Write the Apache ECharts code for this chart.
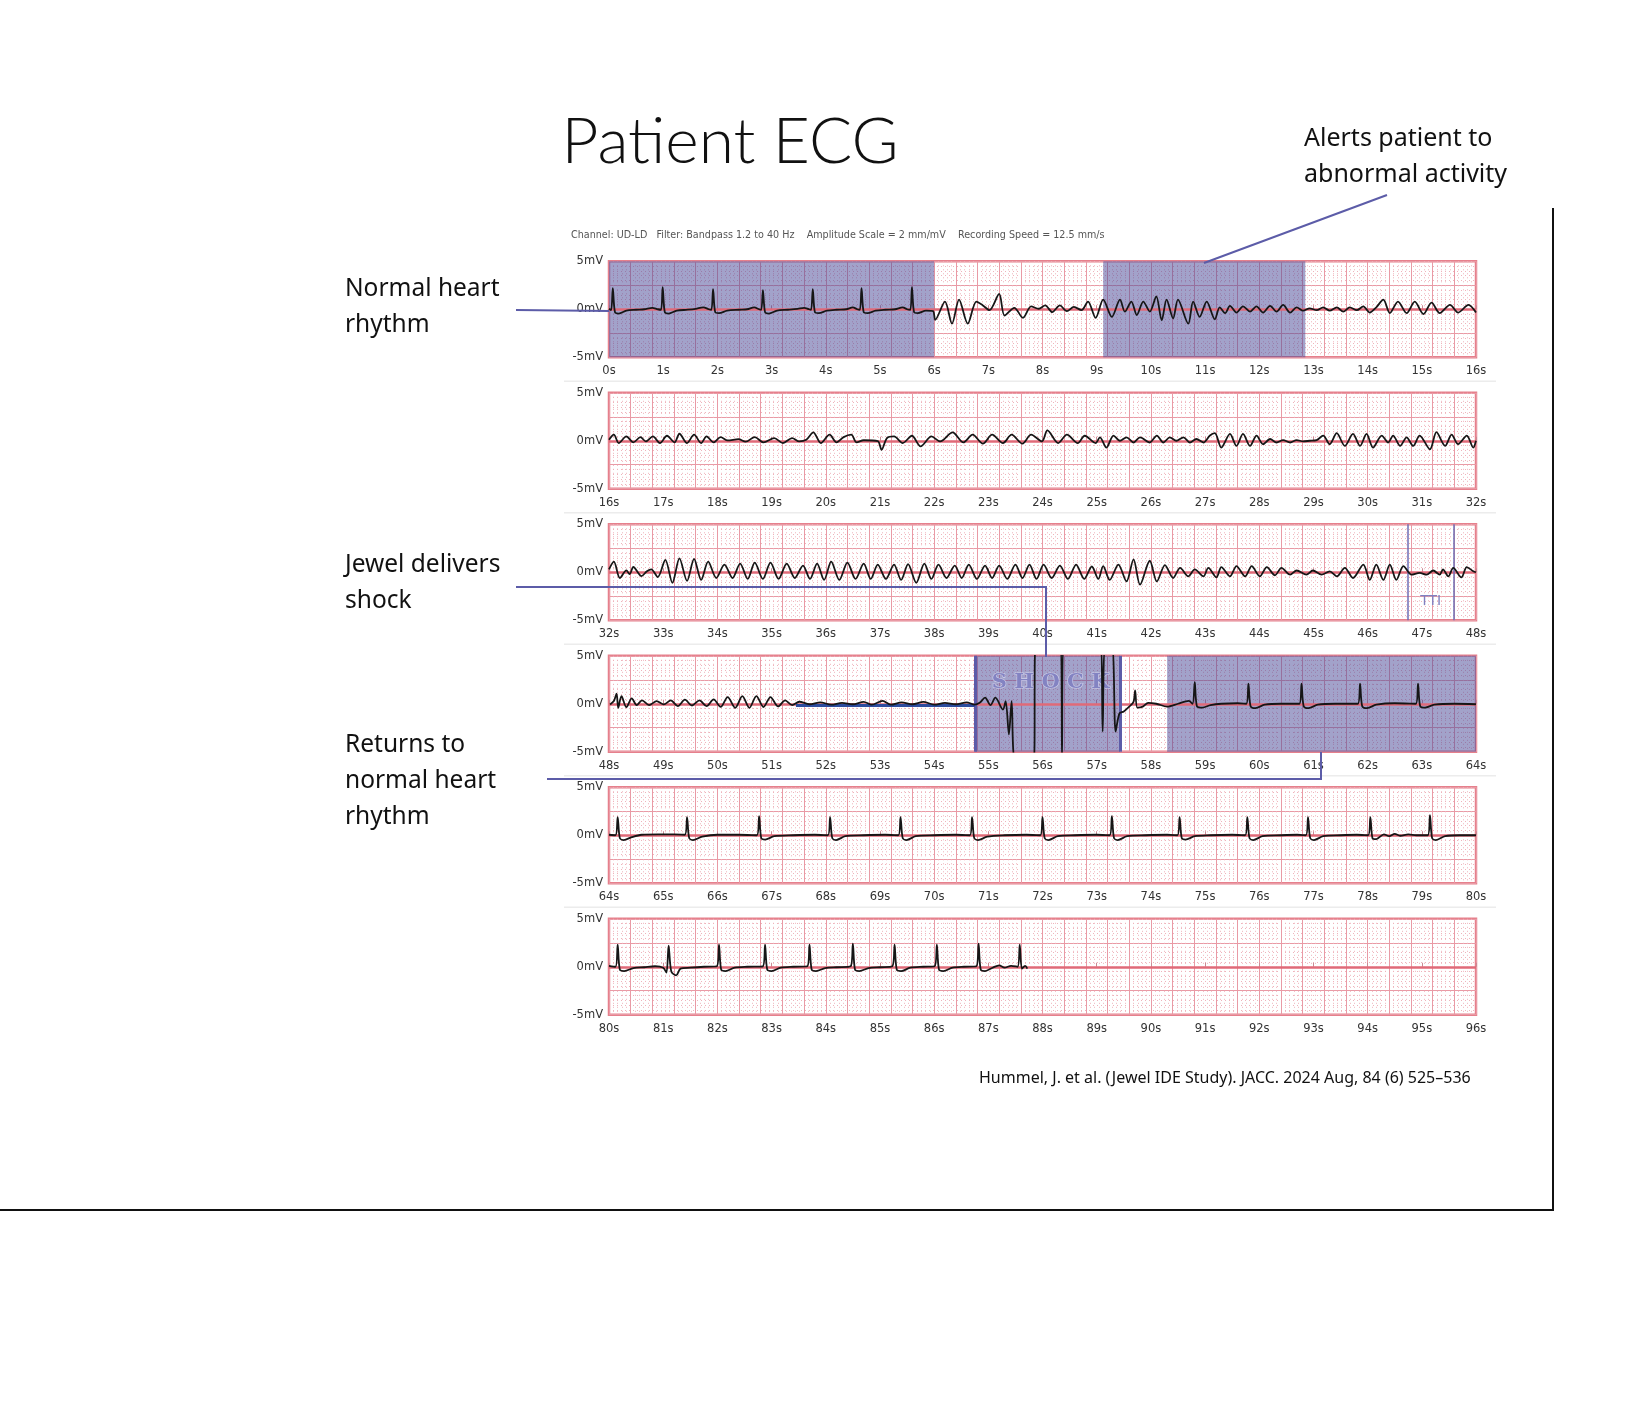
<!DOCTYPE html>
<html>
<head>
<meta charset="utf-8">
<script src="https://cdn.jsdelivr.net/npm/echarts@6/dist/echarts.min.js"></script>
<style>
html,body{margin:0;padding:0;background:#fff;}
#c{width:1652px;height:1416px;}
</style>
</head>
<body>
<div id="c"></div>
<script>
// ---------- DATA ----------
const stripStarts = [0, 16, 32, 48, 64, 80];
const voltLabels = [-5, 0, 5];

const strip1 = [
[0.00,0.05],[0.04,-0.1],[0.07,2.2],[0.11,-0.3],[0.18,-0.45],[0.32,-0.15],[0.5,-0.05],[0.65,0.0],[0.8,0.15],[0.9,0.0],[0.96,-0.05],
[0.99,2.3],[1.03,-0.3],[1.1,-0.45],[1.25,-0.15],[1.45,-0.05],[1.6,0.05],[1.74,0.2],[1.84,0.0],[1.89,-0.05],
[1.92,2.1],[1.96,-0.3],[2.03,-0.4],[2.18,-0.15],[2.4,-0.05],[2.55,0.0],[2.68,0.2],[2.77,0.0],[2.81,-0.05],
[2.84,2.0],[2.88,-0.3],[2.95,-0.45],[3.1,-0.15],[3.3,-0.05],[3.48,0.05],[3.6,0.15],[3.69,0.0],[3.73,-0.05],
[3.76,2.1],[3.8,-0.3],[3.87,-0.4],[4.02,-0.15],[4.2,-0.05],[4.38,0.0],[4.5,0.2],[4.58,0.0],[4.63,-0.05],
[4.66,2.2],[4.7,-0.3],[4.77,-0.4],[4.92,-0.15],[5.1,-0.05],[5.28,0.0],[5.42,0.2],[5.5,0.0],[5.56,-0.05],
[5.59,2.3],[5.63,-0.3],[5.7,-0.4],[5.85,-0.15],[5.98,-0.2],
[6.02,-1.1],[6.2,0.8],[6.33,-1.5],[6.46,1.0],[6.62,-1.5],[6.78,0.8],[6.9,0.4],[7.02,-0.1],[7.2,1.6],[7.3,-0.65],[7.48,0.15],[7.64,-0.9],[7.79,0.3],[7.93,0.05],[8.05,0.4],[8.18,-0.3],[8.32,0.4],[8.45,-0.2],[8.58,0.25],[8.72,-0.1],[8.84,0.8],[8.98,-0.9],
[9.12,1.0],[9.28,-0.8],[9.43,1.0],[9.52,-0.25],[9.64,0.8],[9.74,-0.6],[9.86,0.8],[9.98,-0.25],[10.1,1.35],[10.2,-1.15],[10.29,1.0],[10.41,-0.95],[10.5,1.0],[10.69,-1.5],[10.78,0.8],[10.9,-0.8],[11.03,0.8],[11.18,-1.05],[11.27,0.2],[11.37,-0.4],[11.46,0.35],[11.58,-0.35],[11.7,0.3],[11.83,-0.25],[11.95,0.3],[12.07,-0.35],[12.2,0.35],[12.32,-0.25],[12.44,0.45],[12.57,-0.35],[12.69,0.2],[12.81,-0.15],[12.93,0.1],[13.06,-0.1],[13.18,0.2],[13.3,-0.15],[13.43,0.2],[13.55,-0.25],[13.67,0.2],[13.8,-0.1],[13.92,0.3],[14.04,-0.35],[14.16,0.2],[14.29,1.0],[14.41,-0.4],[14.56,0.8],[14.72,-0.4],[14.87,0.8],[15.03,-0.5],[15.18,0.7],[15.33,-0.4],[15.52,0.45],[15.67,-0.35],[15.86,0.45],[16.0,-0.35]
];

const strip2 = [
[16.0,0.1],[16.09,0.63],[16.18,-0.24],[16.32,0.45],[16.45,-0.17],[16.58,0.38],[16.68,-0.07],[16.81,0.45],[16.94,-0.24],[17.07,0.52],[17.21,-0.17],[17.3,0.73],[17.44,-0.24],[17.57,0.63],[17.7,-0.24],[17.8,0.45],[17.93,-0.17],[18.06,0.38],[18.19,0.03],[18.39,0.17],[18.52,-0.1],[18.69,0.38],[18.85,-0.17],[19.05,0.28],[19.21,-0.24],[19.38,0.28],[19.51,-0.07],[19.64,0.1],[19.77,0.87],[19.91,-0.24],[20.07,0.63],[20.2,-0.17],[20.33,0.38],[20.47,0.63],[20.57,-0.17],[20.7,0.05],[20.96,-0.05],[21.03,-0.94],[21.13,0.28],[21.26,0.45],[21.42,-0.24],[21.59,0.52],[21.75,-0.59],[21.95,0.45],[22.11,-0.07],[22.34,0.87],[22.54,-0.17],[22.71,0.63],[22.9,-0.31],[23.07,0.63],[23.27,-0.24],[23.43,0.63],[23.63,-0.31],[23.79,0.63],[23.99,-0.07],[24.09,1.08],[24.29,-0.24],[24.45,0.63],[24.65,-0.24],[24.78,0.52],[24.98,-0.24],
[25.06,0.36],[25.18,-0.71],[25.31,0.54],[25.43,0.0],[25.55,0.36],[25.68,-0.18],[25.8,0.36],[25.98,-0.18],[26.11,0.54],[26.23,-0.18],[26.35,0.36],[26.47,0.0],[26.6,0.36],[26.72,-0.18],[26.84,0.18],[26.97,-0.18],[27.09,0.54],[27.18,0.79],[27.3,-0.71],[27.46,0.71],[27.58,-0.54],[27.7,0.71],[27.83,-0.54],[27.95,0.54],[28.07,-0.36],[28.2,0.18],[28.32,-0.18],[28.44,0.07],[28.57,-0.18],[28.69,0.07],[28.81,-0.07],[28.93,0.0],[29.06,0.07],[29.18,0.54],[29.3,-0.36],[29.43,0.79],[29.58,-0.54],[29.73,0.71],[29.86,-0.54],[29.98,0.71],[30.1,-0.71],[30.26,0.54],[30.38,-0.18],[30.47,0.54],[30.6,-0.54],[30.72,0.36],[30.84,-0.54],[30.96,0.54],[31.15,-0.89],[31.27,0.89],[31.43,-0.54],[31.55,0.64],[31.67,-0.36],[31.83,0.54],[31.95,-0.71],[32.0,0.0]
];

const strip3 = [
[32.0,0.3],[32.09,1.1],[32.2,-0.6],[32.32,0.2],[32.38,-0.2],[32.45,0.55],[32.6,-0.4],[32.7,0.1],[32.78,0.3],[32.9,-0.5],[33.04,1.3],[33.17,-1.1],[33.3,1.45],[33.44,-0.9],[33.57,1.4],[33.7,-0.8],[33.83,1.1],[33.98,-0.6],[34.13,0.8],[34.28,-0.6],[34.42,0.9],[34.56,-0.7],[34.69,1.0],[34.84,-0.7],[34.98,1.0],[35.13,-0.7],[35.28,0.9],[35.43,-0.6],[35.58,0.7],[35.71,-0.7],[35.84,0.9],[35.97,-0.8],[36.1,1.1],[36.25,-0.8],[36.4,1.0],[36.55,-0.7],[36.7,0.9],[36.83,-0.7],[36.96,0.8],[37.11,-0.7],[37.26,0.8],[37.39,-0.8],[37.52,0.85],[37.67,-1.1],[37.82,0.9],[37.95,-0.7],[38.08,0.8],[38.23,-0.6],[38.38,0.7],[38.51,-0.6],[38.64,0.8],[38.79,-0.7],[38.94,0.7],[39.07,-0.6],[39.2,0.7],[39.35,-0.7],[39.5,0.8],[39.63,-0.6],[39.76,0.8],[39.89,-0.7],[40.02,0.8],[40.17,-0.6],[40.32,0.7],[40.47,-0.7],[40.62,0.8],[40.77,-0.7],[40.91,0.6],[41.03,-0.7],
[41.12,0.64],[41.24,-0.8],[41.4,0.8],[41.55,-0.96],[41.68,1.35],[41.8,-1.3],[41.98,1.2],[42.11,-0.96],[42.26,0.75],[42.41,-0.6],[42.54,0.46],[42.69,-0.43],[42.81,0.29],[42.97,-0.43],[43.06,0.46],[43.21,-0.54],[43.3,0.54],[43.46,-0.43],[43.58,0.64],[43.74,-0.43],[43.86,0.64],[44.01,-0.43],[44.14,0.54],[44.29,-0.32],[44.41,0.46],[44.57,-0.25],[44.69,0.18],[44.87,-0.25],[44.99,0.18],[45.15,-0.25],[45.3,0.1],[45.43,-0.43],[45.58,0.46],[45.73,-0.6],[45.92,0.8],[46.04,-0.8],[46.16,0.8],[46.29,-0.8],[46.41,0.8],[46.53,-0.8],[46.66,0.64],[46.81,-0.25],[46.96,-0.07],[47.09,-0.25],[47.21,0.18],[47.33,-0.25],[47.39,0.29],[47.49,-0.43],[47.58,0.46],[47.73,-0.54],[47.83,0.54],[47.95,0.1],[48.0,0.0]
];

const strip4 = [
[48.02,-0.07],[48.09,0.28],[48.14,1.05],[48.17,-0.42],[48.23,0.8],[48.32,-0.35],[48.42,0.56],[48.51,-0.14],[48.61,0.35],[48.74,-0.14],[48.88,0.28],[49.01,-0.07],[49.14,0.35],[49.27,-0.25],[49.4,0.42],[49.53,-0.18],[49.67,0.35],[49.8,-0.25],[49.93,0.46],[50.06,-0.32],[50.19,0.7],[50.33,-0.42],[50.46,0.8],[50.59,-0.42],[50.72,0.8],[50.85,-0.35],[50.98,0.7],[51.12,-0.28],[51.25,0.35],[51.38,-0.14],[51.51,0.21],
[51.7,-0.05],[51.9,0.15],[52.1,-0.1],[52.3,0.1],[52.5,-0.05],[52.7,0.2],[52.85,-0.1],[53.05,0.3],[53.2,-0.1],[53.4,0.15],[53.6,-0.05],[53.8,0.2],[54.0,-0.1],[54.2,0.1],[54.4,-0.05],[54.6,0.15],[54.75,-0.1],
[54.84,0.1],[54.94,0.63],[55.04,-0.14],[55.13,0.63],[55.27,-0.6],[55.32,0.28],[55.38,-3.2],[55.43,0.28],[55.5,-6],[55.84,-6],[55.87,6],[56.34,6],[56.36,-6],[56.38,6],[57.07,6],[57.11,-2.9],[57.16,6],[57.28,6],[57.35,-2.9],[57.42,-1.0],[57.5,-0.8],[57.6,-0.3],[57.68,0.2],[57.71,1.4],[57.75,-0.4],[57.85,-0.3],[57.95,0.1],[58.1,0.0],[58.3,-0.3],[58.5,0.0],[58.7,0.3],[58.77,0.0],
[58.81,2.25],[58.85,-0.25],[58.95,-0.4],[59.1,-0.15],[59.3,0.0],[59.6,0.05],[59.76,0.0],
[59.8,2.1],[59.84,-0.25],[59.93,-0.45],[60.1,-0.1],[60.4,0.0],[60.74,0.0],
[60.78,2.1],[60.82,-0.25],[60.91,-0.45],[61.08,-0.1],[61.4,0.0],[61.82,0.0],
[61.86,2.1],[61.9,-0.25],[61.99,-0.45],[62.16,-0.1],[62.5,0.05],[62.89,0.0],
[62.93,2.1],[62.97,-0.25],[63.06,-0.4],[63.23,-0.1],[63.6,0.0],[64.0,-0.05]
];

const strip5 = [
[64.0,0.05],[64.12,0.0],[64.16,1.9],[64.2,-0.3],[64.27,-0.5],[64.42,-0.2],[64.6,0.05],[64.9,0.1],[65.2,0.1],[65.4,0.05],
[65.44,1.9],[65.48,-0.3],[65.55,-0.5],[65.72,-0.15],[66.0,0.05],[66.4,0.05],[66.73,0.0],
[66.77,2.0],[66.81,-0.3],[66.88,-0.45],[67.05,-0.1],[67.4,0.0],[67.8,0.05],[68.04,0.0],
[68.08,1.9],[68.12,-0.3],[68.19,-0.5],[68.36,-0.1],[68.7,0.0],[69.1,0.05],[69.34,0.0],
[69.38,1.9],[69.42,-0.3],[69.49,-0.5],[69.66,-0.1],[70.0,0.0],[70.4,0.05],[70.66,0.0],
[70.7,1.9],[70.74,-0.3],[70.81,-0.5],[70.98,-0.15],[71.3,0.0],[71.7,0.05],[71.96,0.0],
[72.0,1.9],[72.04,-0.3],[72.11,-0.5],[72.28,-0.1],[72.6,0.0],[73.0,0.05],[73.24,0.0],
[73.28,2.0],[73.32,-0.3],[73.39,-0.5],[73.56,-0.1],[73.9,0.0],[74.3,0.05],[74.49,0.0],
[74.53,1.9],[74.57,-0.3],[74.64,-0.45],[74.81,-0.1],[75.1,0.0],[75.5,0.05],[75.74,0.0],
[75.78,1.9],[75.82,-0.3],[75.89,-0.5],[76.06,-0.1],[76.4,0.0],[76.7,0.05],[76.86,0.0],
[76.9,1.9],[76.94,-0.3],[77.01,-0.5],[77.18,-0.1],[77.5,0.0],[77.8,0.05],[78.01,0.0],
[78.05,1.9],[78.09,-0.3],[78.16,-0.4],[78.3,0.1],[78.4,-0.1],[78.5,0.15],[78.6,-0.05],[78.75,0.1],[78.9,0.0],[79.11,0.0],
[79.15,2.1],[79.19,-0.3],[79.26,-0.5],[79.43,-0.1],[79.7,0.0],[80.0,0.0]
];

const strip6 = [
[80.0,0.1],[80.12,0.0],[80.16,2.3],[80.2,-0.3],[80.28,-0.45],[80.45,-0.15],[80.65,-0.05],[80.85,0.05],[81.0,-0.1],[81.06,-0.6],[81.1,2.2],[81.15,-0.5],[81.24,-0.9],[81.32,-0.2],[81.5,-0.1],[81.75,0.0],[81.99,0.05],
[82.03,2.3],[82.07,-0.3],[82.15,-0.45],[82.32,-0.1],[82.55,0.0],[82.84,0.05],
[82.88,2.3],[82.92,-0.3],[83.0,-0.45],[83.17,-0.1],[83.4,0.0],[83.66,0.05],
[83.7,2.3],[83.74,-0.3],[83.82,-0.45],[83.99,-0.15],[84.2,-0.05],[84.46,0.05],
[84.5,2.4],[84.54,-0.3],[84.62,-0.45],[84.79,-0.15],[85.0,-0.05],[85.23,0.05],
[85.27,2.3],[85.31,-0.3],[85.39,-0.45],[85.56,-0.1],[85.8,0.0],[86.01,0.05],
[86.05,2.3],[86.09,-0.3],[86.17,-0.45],[86.34,-0.1],[86.55,0.0],[86.78,0.05],
[86.82,2.4],[86.86,-0.3],[86.94,-0.45],[87.08,-0.1],[87.2,0.15],[87.3,-0.1],[87.42,0.1],[87.54,0.0],
[87.58,2.3],[87.62,-0.2],[87.68,0.1],[87.72,-0.2]
];

const strips = [strip1, strip2, strip3, strip4, strip5, strip6];

// shaded episodes [start, end] (s)
const shadedRegions = [[0, 6.0], [9.12, 12.85], [54.75, 57.43], [58.3, 64]];
const shockEdges = [54.75, 57.43];
const ttiMarkers = [46.74, 47.59];
const ttiLabel = {t: 47.165, v: -3.0, text: 'TTI'};
const shockLabel = {t: 56.15, v: 2.2, text: 'S H O C K'};
const blueSegment = [[51.45, -0.2], [54.75, -0.2]];

// ---------- LAYOUT ----------
const GL = 609, GW = 867, GT0 = 261.3, GH = 95.9, GSTEP = 131.5;
const PINK = '#e99aa5', PINK_DOT = '#efb3bb', RED = '#e06a78', BORDER = '#e6808c';
const PURPLE = '#5c5ca8';

const chart = echarts.init(document.getElementById('c'), null, {renderer: 'canvas'});

const grids = [], xAxes = [], yAxes = [], series = [];
stripStarts.forEach((s, i) => {
  grids.push({left: GL, width: GW, top: GT0 + GSTEP * i, height: GH, show: true,
    backgroundColor: '#fff', borderColor: BORDER, borderWidth: 2.5, z: 0});
  xAxes.push({type: 'value', gridIndex: i, min: s, max: s + 16, interval: 1,
    axisLine: {show: false}, splitLine: {show: false},
    axisTick: {show: true, inside: true, length: 4, lineStyle: {color: '#c98a94'}},
    axisLabel: {formatter: v => Math.round(v) + 's', color: '#333', fontSize: 11.5,
      fontFamily: 'DejaVu Sans', margin: 8, showMinLabel: true, showMaxLabel: true}});
  xAxes.push({type: 'value', gridIndex: i, min: s, max: s + 16, interval: 0.4,
    axisLine: {show: false}, axisTick: {show: false}, axisLabel: {show: false},
    splitLine: {show: true, lineStyle: {color: PINK, width: 1}},
    minorTick: {show: false, splitNumber: 5},
    minorSplitLine: {show: true, lineStyle: {color: PINK_DOT, width: 1, type: [1, 3]}}});
  yAxes.push({type: 'value', gridIndex: i, min: -5, max: 5, interval: 2.5,
    axisLine: {show: false}, axisTick: {show: false},
    axisLabel: {formatter: v => (voltLabels.indexOf(v) >= 0 ? v + 'mV' : ''), color: '#333',
      fontSize: 11.5, fontFamily: 'DejaVu Sans', margin: 6},
    splitLine: {show: true, lineStyle: {color: PINK, width: 1}},
    minorTick: {show: false, splitNumber: 5},
    minorSplitLine: {show: true, lineStyle: {color: PINK_DOT, width: 1, type: [1, 3]}}});

  const lo = s, hi = s + 16;
  const areas = shadedRegions.filter(r => r[0] < hi && r[1] > lo).map(r =>
    [{xAxis: r[0], yAxis: -5}, {xAxis: r[1], yAxis: 5}]);
  const mlData = [{yAxis: 0, lineStyle: {color: RED, width: 2.5, type: 'solid'}}];
  ttiMarkers.filter(t => t >= lo && t <= hi).forEach(t =>
    mlData.push({xAxis: t, lineStyle: {color: '#6e6eb4', width: 1.5, type: 'solid'}}));
  shockEdges.filter(t => t >= lo && t <= hi).forEach(t =>
    mlData.push({xAxis: t, lineStyle: {color: PURPLE, width: 3, type: 'solid'}}));
  if (blueSegment[0][0] >= lo && blueSegment[1][0] <= hi) {
    mlData.push([{coord: blueSegment[0], lineStyle: {color: '#2d4c9e', width: 3, type: 'solid'}},
                 {coord: blueSegment[1]}]);
  }
  series.push({type: 'line', xAxisIndex: 2 * i, yAxisIndex: i, data: [], z: 2, silent: true,
    markArea: {silent: true, itemStyle: {color: 'rgba(70,70,150,0.5)'}, data: areas},
    markLine: {silent: true, symbol: 'none', label: {show: false}, animation: false, data: mlData}});
  series.push({type: 'line', xAxisIndex: 2 * i, yAxisIndex: i, data: strips[i], z: 5,
    showSymbol: false, symbol: 'none', clip: true, silent: true, smooth: 0.3,
    lineStyle: {color: '#161616', width: 1.8}});
  // labels drawn on top of the shading
  const mpData = [];
  if (ttiLabel.t >= lo && ttiLabel.t <= hi) mpData.push({coord: [ttiLabel.t, ttiLabel.v], value: ttiLabel.text,
    label: {color: '#8080c0', fontSize: 14, fontFamily: 'DejaVu Sans'}});
  if (shockLabel.t >= lo && shockLabel.t <= hi) mpData.push({coord: [shockLabel.t, shockLabel.v], value: shockLabel.text,
    label: {color: '#8383c2', fontSize: 21, fontWeight: 'bold', fontFamily: 'DejaVu Serif',
      textBorderColor: 'rgba(215,215,240,0.9)', textBorderWidth: 1.2}});
  if (mpData.length) series.push({type: 'line', xAxisIndex: 2 * i, yAxisIndex: i, data: [], z: 4, silent: true,
    markPoint: {silent: true, symbol: 'rect', symbolSize: 0, animation: false,
      label: {show: true, position: 'inside', formatter: p => p.value}, data: mpData}});
});

// ---------- TEXT / ANNOTATIONS ----------
const SANS = '"Noto Sans", "Open Sans", sans-serif';
function txt(x, y, text, size, opts) {
  return Object.assign({type: 'text', silent: true, style: Object.assign({
    x: x, y: y, text: text, fill: '#111', font: size + 'px ' + SANS,
    textAlign: 'left', textVerticalAlign: 'middle', align: 'left', verticalAlign: 'middle'}, opts || {})});
}
const graphic = [
  txt(730, 142, 'Patient ECG', 64, {font: '300 64px Lato, sans-serif', textAlign: 'center', align: 'center'}),
  txt(1304, 139, 'Alerts patient to', 25),
  txt(1304, 175, 'abnormal activity', 25),
  txt(345, 289, 'Normal heart', 24.5),
  txt(345, 325, 'rhythm', 24.5),
  txt(345, 565, 'Jewel delivers', 24.5),
  txt(345, 601, 'shock', 24.5),
  txt(345, 745, 'Returns to', 24.5),
  txt(345, 781, 'normal heart', 24.5),
  txt(345, 817, 'rhythm', 24.5),
  txt(979, 1078, 'Hummel, J. et al. (Jewel IDE Study). JACC. 2024 Aug, 84 (6) 525\u2013536', 16),
  txt(571, 235, 'Channel: UD-LD   Filter: Bandpass 1.2 to 40 Hz    Amplitude Scale = 2 mm/mV    Recording Speed = 12.5 mm/s', 9.6,
      {font: '9.6px "DejaVu Sans"', fill: '#555'}),
  {type: 'polyline', silent: true, z: 50, shape: {points: [[516, 310], [609, 311]]}, style: {stroke: PURPLE, lineWidth: 2, fill: null}},
  {type: 'polyline', silent: true, z: 50, shape: {points: [[1387, 195], [1204, 263]]}, style: {stroke: PURPLE, lineWidth: 2, fill: null}},
  {type: 'polyline', silent: true, z: 50, shape: {points: [[516, 587], [1046, 587], [1046, 657]]}, style: {stroke: PURPLE, lineWidth: 2, fill: null}},
  {type: 'polyline', silent: true, z: 50, shape: {points: [[547, 779], [1321, 779], [1321, 752]]}, style: {stroke: PURPLE, lineWidth: 2, fill: null}},
  {type: 'polyline', silent: true, z: 50, shape: {points: [[1553, 208], [1553, 1210], [0, 1210]]}, style: {stroke: '#111', lineWidth: 2, fill: null}}
];
for (let i = 0; i < 5; i++) {
  const y = GT0 + GH + 24 + GSTEP * i;
  graphic.push({type: 'line', silent: true, z: 1, shape: {x1: 564, y1: y, x2: 1496, y2: y}, style: {stroke: '#ececec', lineWidth: 1.5}});
}

chart.setOption({
  animation: false,
  backgroundColor: '#fff',
  grid: grids, xAxis: xAxes, yAxis: yAxes, series: series, graphic: graphic
});
</script>
</body>
</html>
